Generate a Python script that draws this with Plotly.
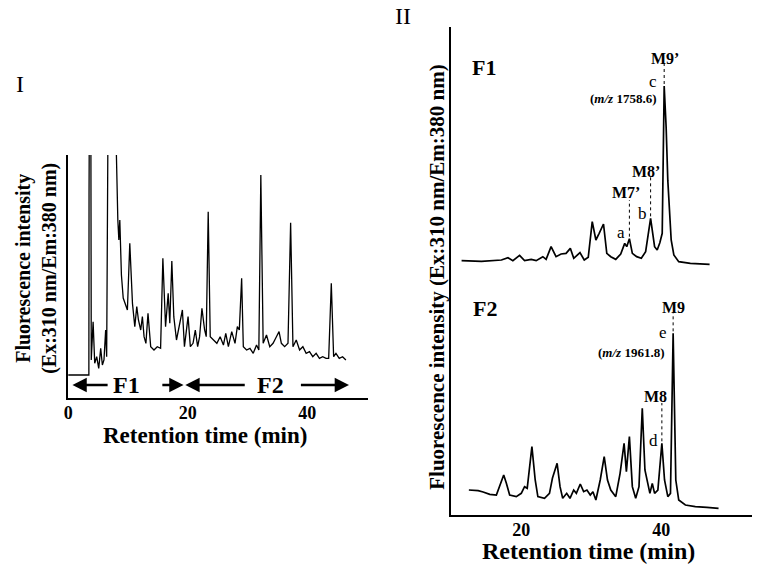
import plotly.graph_objects as go

SERIF = "Liberation Serif, Times New Roman, serif"
W, H = 767, 576

# ---------------- Panel I : whole chromatogram ----------------
t1 = [0.0, 3.45, 3.48, 3.6, 3.75, 3.85, 4.16, 4.43, 4.76, 5.10, 5.43, 5.71, 5.98, 6.26, 6.43,
      6.65, 6.8, 7.6, 7.85, 8.3, 8.47, 8.63, 8.9, 9.2, 9.9, 10.3, 10.75, 11.14, 11.47, 11.75,
      12.13, 12.41, 12.69, 13.0, 13.35, 13.8, 14.35, 14.9, 15.46, 15.84, 16.29, 16.73, 17.0,
      17.34, 17.67, 18.12, 18.67, 19.11, 19.45, 20.06, 20.44, 20.89, 21.27, 21.66, 21.99,
      22.38, 22.83, 23.1, 23.43, 23.77, 24.32, 24.88, 25.43, 25.98, 26.37, 26.81, 27.37,
      27.92, 28.31, 28.64, 29.03, 29.31, 29.86, 30.42, 30.97, 31.52, 31.91, 32.24, 32.63,
      33.19, 33.74, 34.29, 34.85, 35.29, 35.68, 36.23, 36.79, 37.23, 37.62, 38.17, 38.73,
      39.28, 39.83, 40.39, 40.94, 41.5, 42.05, 42.6, 43.16, 43.6, 44.04, 44.43, 44.82,
      45.37, 45.93, 46.48]
v1 = [6.9, 6.9, 61.0, 120.0, 120.0, 11.4, 22.9, 10.4, 12.4, 8.9, 14.9, 9.9, 11.4, 20.4, 12.4,
      90.0, 130.0, 130.0, 90.0, 53.4, 47.4, 53.4, 36.9, 30.0, 26.4, 46.4, 28.4, 21.4, 27.4, 23.4,
      20.4, 24.4, 18.4, 16.4, 25.4, 15.4, 14.4, 15.4, 14.9, 41.9, 21.4, 31.4, 22.4,
      41.1, 24.4, 17.4, 22.4, 26.4, 15.4, 24.4, 15.4, 16.4, 20.4, 15.4, 18.4,
      26.9, 20.4, 18.4, 55.9, 18.4, 17.4, 16.4, 18.4, 15.9, 19.4, 15.4, 19.9,
      16.4, 21.4, 20.4, 35.9, 15.4, 14.4, 14.9, 13.4, 15.9, 14.4, 66.9, 16.4,
      18.9, 15.4, 16.4, 18.4, 19.9, 16.4, 15.4, 16.4, 52.6, 15.4, 17.4, 14.4,
      15.4, 13.4, 13.9, 12.4, 13.4, 11.9, 12.4, 11.9, 11.9, 34.4, 12.4, 13.4,
      11.9, 12.4, 11.4]

# fraction arrows (start, end) in minutes
frac_arrows = [(6.84, 0.7), (15.5, 19.3), (29.8, 19.6), (38.7, 47.0)]
frac_labels = ["F1", "F2"]
frac_label_t = [9.7, 33.9]
ticks1 = [0, 20, 40]

# ---------------- Panel II : fractions F1 and F2 ----------------
t_f1 = [11.47, 14.31, 17.16, 18.1, 18.8, 19.76, 20.47, 21.42, 22.13, 23.08, 23.55, 24.26,
        24.97, 25.69, 26.4, 27.01, 27.5, 28.39, 29.0, 29.57, 30.14, 30.66, 31.13, 31.75,
        32.22, 32.79, 33.5, 34.21, 34.78, 35.07, 35.45, 35.87, 36.49, 37.15, 37.77, 38.48,
        39.05, 39.42, 39.8, 40.14, 40.42, 40.7, 40.94, 41.42, 41.8, 42.5, 44.16, 46.91]
v_f1 = [0.0, -0.2, 0.2, 0.9, 0.0, 1.6, 0.0, 0.4, 0.0, 1.2, 0.4, 4.2,
        1.2, 2.0, 2.2, 3.7, 0.7, 2.4, 0.2, 1.0, 11.7, 6.2, 8.2, 11.0,
        2.2, 1.2, 0.4, 2.0, 5.2, 4.2, 6.6, 2.2, 1.2, 0.7, 2.7, 12.7,
        4.2, 3.2, 5.4, 8.2, 52.4, 40.0, 24.0, 6.2, 1.7, -0.3, -0.8, -1.1]

t_f2 = [12.51, 13.84, 14.55, 15.5, 16.44, 16.92, 17.49, 17.87, 18.34, 19.29, 20.0, 20.47,
        20.85, 21.52, 21.99, 22.37, 23.32, 24.03, 24.45, 25.12, 25.54, 25.92, 26.49, 26.96,
        27.49, 27.87, 28.43, 28.91, 29.38, 29.86, 30.24, 30.66, 31.28, 31.85, 32.32, 32.79,
        33.5, 34.12, 34.69, 35.02, 35.45, 35.87, 36.35, 36.82, 37.29, 37.67, 38.0, 38.38,
        38.72, 39.05, 39.52, 40.09, 40.47, 40.94, 41.32, 41.7, 42.08, 42.5, 43.45, 44.87,
        46.53, 48.19]
v_f2 = [7.5, 7.3, 6.9, 6.2, 6.0, 8.5, 12.0, 9.5, 6.0, 5.5, 6.5, 8.5,
        8.0, 20.5, 10.5, 5.5, 5.0, 6.5, 11.0, 15.5, 8.5, 5.0, 6.5, 5.0,
        7.5, 6.5, 9.3, 7.0, 7.5, 6.0, 7.0, 4.5, 10.5, 17.5, 10.5, 7.5,
        5.5, 12.5, 21.5, 13.0, 23.5, 8.5, 5.0, 8.5, 32.0, 13.5, 10.5, 6.5,
        9.5, 6.5, 7.5, 21.5, 10.5, 5.5, 6.5, 54.5, 10.5, 4.5, 3.0, 2.5,
        2.3, 2.0]
ticks2 = [20, 40]

# peak labels: (name, peak time, peak value, label-line top value, label x, label y)
f1_peaks = [("M9’", 40.42, 52.4, 59.3, 40.6, 60.8),
            ("M8’", 38.48, 12.7, 25.1, 37.76, 26.9),
            ("M7’", 35.45, 6.6, 18.2, 34.92, 20.5)]
f1_letters = [("a", 34.2, 8.6), ("b", 37.34, 14.3), ("c", 38.77, 53.9)]
f1_mz = ("1758.6", 34.5, 48.8)

f2_peaks = [("M9", 41.70, 54.5, 60.9, 41.74, 62.4),
            ("M8", 40.09, 21.5, 33.6, 39.2, 35.6)]
f2_letters = [("d", 38.91, 22.5), ("e", 40.32, 54.9)]
f2_mz = ("1961.8", 35.65, 48.9)


def fx(px):
    return px / W


def fy(py):
    return 1 - py / H


fig = go.Figure()
fig.add_trace(go.Scatter(x=t1, y=v1, mode="lines", line=dict(color="black", width=1.3),
                         xaxis="x", yaxis="y", showlegend=False, hoverinfo="skip"))
fig.add_trace(go.Scatter(x=t_f1, y=v_f1, mode="lines", line=dict(color="black", width=1.7),
                         xaxis="x2", yaxis="y3", showlegend=False, hoverinfo="skip"))
fig.add_trace(go.Scatter(x=t_f2, y=v_f2, mode="lines", line=dict(color="black", width=1.7),
                         xaxis="x2", yaxis="y2", showlegend=False, hoverinfo="skip"))

tickfont = dict(family=SERIF, size=18, color="black", weight="bold")
common = dict(showgrid=False, zeroline=False, ticks="", showline=True, linecolor="black",
              ticklabelstandoff=-3)

fig.update_layout(
    width=W, height=H, margin=dict(l=0, r=0, t=0, b=0),
    paper_bgcolor="white", plot_bgcolor="white",
    xaxis=dict(domain=[fx(64), fx(366)], range=[-0.1, 50.2], anchor="y",
               tickvals=ticks1, tickfont=tickfont, linewidth=2, **common),
    yaxis=dict(domain=[fy(398), fy(155)], range=[0, 72.9], anchor="x",
               showticklabels=False, linewidth=2, **common),
    xaxis2=dict(domain=[fx(449), fx(752)], range=[9.91, 52.98], anchor="y2",
                tickvals=ticks2, tickfont=tickfont, linewidth=1.8, **common),
    yaxis2=dict(domain=[fy(515), fy(300)], range=[0, 64.5], anchor="x2",
                showticklabels=False, linewidth=1.8, **common),
    yaxis3=dict(domain=[fy(300), fy(27)], range=[-11.8, 70.1], anchor="x2",
                showticklabels=False, linewidth=1.8, **common),
)

ann = []


def paper_text(text, px, py, size, angle=0, bold=True):
    ann.append(dict(text=text, x=fx(px), y=fy(py), xref="paper", yref="paper",
                    showarrow=False, textangle=angle, xanchor="center", yanchor="middle",
                    font=dict(family=SERIF, size=size, color="black",
                              weight="bold" if bold else "normal")))


def data_text(text, x, y, xr, yr, size, bold=True):
    ann.append(dict(text=text, x=x, y=y, xref=xr, yref=yr, showarrow=False,
                    xanchor="center", yanchor="middle",
                    font=dict(family=SERIF, size=size, color="black",
                              weight="bold" if bold else "normal")))


# panel labels
paper_text("I", 16, 84, 24, bold=False)
paper_text("II", 401, 16, 24, bold=False)

# axis titles
paper_text("Retention time (min)", 202, 435, 23)
paper_text("Fluorescence intensity<br>(Ex:310 nm/Em:380 nm)", 32, 268, 20, angle=-90)
paper_text("Retention time (min)", 588, 551, 24)
paper_text("Fluorescence intensity (Ex:310 nm/Em:380 nm)", 435, 277, 21, angle=-90)

# fraction arrows panel I
for (a0, a1) in frac_arrows:
    ann.append(dict(x=a1, y=3.9, ax=a0, ay=3.9, xref="x", yref="y", axref="x", ayref="y",
                    text="", showarrow=True, arrowhead=2, arrowsize=1.1, arrowwidth=2.6,
                    arrowcolor="black"))
for lab, tt in zip(frac_labels, frac_label_t):
    data_text(lab, tt, 3.9, "x", "y", 24)

# panel II labels
data_text("F1", 14.74, 58.1, "x2", "y3", 22)
data_text("F2", 14.88, 62.1, "x2", "y2", 22)

shapes = []
for name, pt, pv, top, lx, ly in f1_peaks:
    data_text(name, lx, ly, "x2", "y3", 16)
    shapes.append(dict(type="line", xref="x2", yref="y3", x0=pt, x1=pt, y0=pv + 0.6, y1=top,
                       line=dict(color="black", width=1, dash="dot")))
for name, lx, ly in f1_letters:
    data_text(name, lx, ly, "x2", "y3", 17, bold=False)
data_text("(<i>m/z</i> " + f1_mz[0] + ")", f1_mz[1], f1_mz[2], "x2", "y3", 13)

for name, pt, pv, top, lx, ly in f2_peaks:
    data_text(name, lx, ly, "x2", "y2", 16)
    shapes.append(dict(type="line", xref="x2", yref="y2", x0=pt, x1=pt, y0=pv + 0.6, y1=top,
                       line=dict(color="black", width=1, dash="dot")))
for name, lx, ly in f2_letters:
    data_text(name, lx, ly, "x2", "y2", 17, bold=False)
data_text("(<i>m/z</i> " + f2_mz[0] + ")", f2_mz[1], f2_mz[2], "x2", "y2", 13)

fig.update_layout(annotations=ann, shapes=shapes)
fig.write_html("out.html", config={"displayModeBar": False},
               post_script="document.body.style.margin='0px';")
